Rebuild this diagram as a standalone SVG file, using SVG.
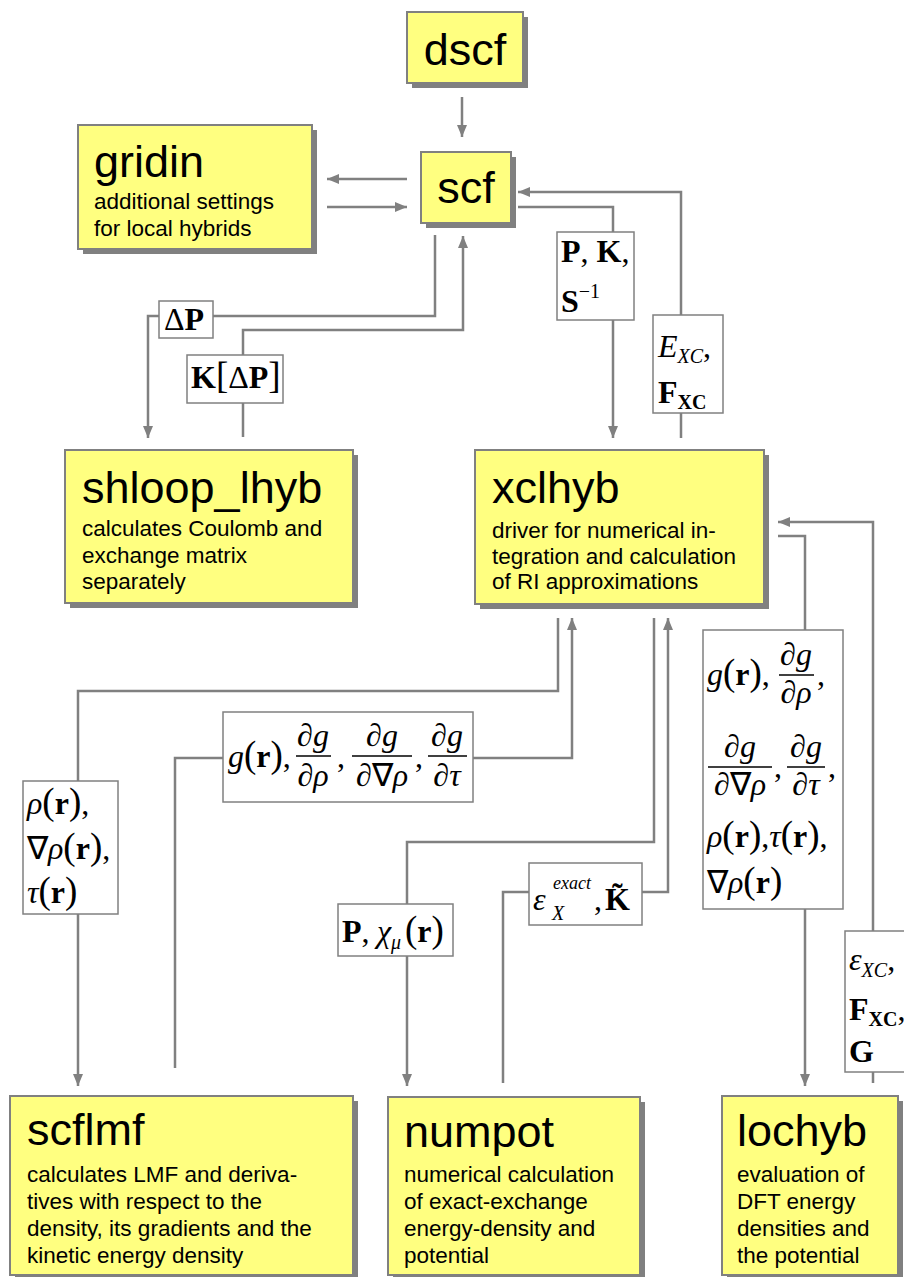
<svg xmlns="http://www.w3.org/2000/svg" width="904" height="1277" viewBox="0 0 904 1277">
<defs>
<marker id="ah" markerWidth="12" markerHeight="10" refX="12" refY="5" orient="auto" markerUnits="userSpaceOnUse"><path d="M0,0 L12,5 L0,10 Z" fill="#808080"/></marker>
<style>
.box{fill:#FFFF80;stroke:#808080;stroke-width:2}
.sh{fill:#808080}
.title{font-family:"Liberation Sans",Arial,sans-serif;font-size:45px;fill:#000}
.sub{font-family:"Liberation Sans",Arial,sans-serif;font-size:22.5px;fill:#000}
.lb{fill:#fff;stroke:#808080;stroke-width:1.5}
.m{font-family:"Liberation Serif","Times New Roman",serif;font-size:32px;fill:#000}
.s{font-size:20px}
.p{font-size:37px}
.i{font-style:italic}
.b{font-weight:bold}
.conn path{fill:none;stroke:#808080;stroke-width:2.5}
.bar{stroke:#000;stroke-width:1.3}
</style>
</defs>
<rect width="904" height="1277" fill="#fff"/>

<g class="conn">
<path d="M462,97 V137" marker-end="url(#ah)"/>
<path d="M407,179 H327" marker-end="url(#ah)"/>
<path d="M327,207 H407" marker-end="url(#ah)"/>
<path d="M435,235 V316 H148 V438" marker-end="url(#ah)"/>
<path d="M243,437 V330 H463 V236" marker-end="url(#ah)"/>
<path d="M518,207 H613 V438" marker-end="url(#ah)"/>
<path d="M681,438 V192 H518" marker-end="url(#ah)"/>
<path d="M558,618 V691 H78 V1086" marker-end="url(#ah)"/>
<path d="M175,1068 V758 H572 V618" marker-end="url(#ah)"/>
<path d="M654,618 V842 H407 V1086" marker-end="url(#ah)"/>
<path d="M503,1083 V892 H668 V618" marker-end="url(#ah)"/>
<path d="M778,536 H805 V1086" marker-end="url(#ah)"/>
<path d="M873,1083 V522 H778" marker-end="url(#ah)"/>
</g>

<g id="dscf">
<rect class="sh" x="412" y="17" width="116" height="71"/>
<rect class="box" x="407" y="12" width="116" height="71"/>
<text class="title" x="465" y="65" text-anchor="middle">dscf</text>
</g>
<g id="scf">
<rect class="sh" x="426" y="157" width="90" height="71"/>
<rect class="box" x="421" y="152" width="90" height="71"/>
<text class="title" x="466" y="203" text-anchor="middle">scf</text>
</g>
<g id="gridin">
<rect class="sh" x="83" y="130" width="234" height="124"/>
<rect class="box" x="78" y="125" width="234" height="124"/>
<text class="title" x="94" y="177">gridin</text>
<text class="sub" x="94" y="209">additional settings</text>
<text class="sub" x="94" y="236">for local hybrids</text>
</g>
<g id="shloop_lhyb">
<rect class="sh" x="70" y="455" width="288" height="153"/>
<rect class="box" x="65" y="450" width="288" height="153"/>
<text class="title" x="82" y="503">shloop_lhyb</text>
<text class="sub" x="82" y="536">calculates Coulomb and</text>
<text class="sub" x="82" y="563">exchange matrix</text>
<text class="sub" x="82" y="589">separately</text>
</g>
<g id="xclhyb">
<rect class="sh" x="480" y="455" width="289" height="154"/>
<rect class="box" x="475" y="450" width="289" height="154"/>
<text class="title" x="492" y="503">xclhyb</text>
<text class="sub" x="492" y="538">driver for numerical in-</text>
<text class="sub" x="492" y="564">tegration and calculation</text>
<text class="sub" x="492" y="589">of RI approximations</text>
</g>
<g id="scflmf">
<rect class="sh" x="15" y="1101" width="343" height="179"/>
<rect class="box" x="10" y="1096" width="343" height="179"/>
<text class="title" x="27" y="1145">scflmf</text>
<text class="sub" x="27" y="1182">calculates LMF and deriva-</text>
<text class="sub" x="27" y="1209">tives with respect to the</text>
<text class="sub" x="27" y="1236">density, its gradients and the</text>
<text class="sub" x="27" y="1263">kinetic energy density</text>
</g>
<g id="numpot">
<rect class="sh" x="393" y="1102" width="252" height="178"/>
<rect class="box" x="388" y="1097" width="252" height="178"/>
<text class="title" x="404" y="1147">numpot</text>
<text class="sub" x="404" y="1182">numerical calculation</text>
<text class="sub" x="404" y="1209">of exact-exchange</text>
<text class="sub" x="404" y="1236">energy-density and</text>
<text class="sub" x="404" y="1263">potential</text>
</g>
<g id="lochyb">
<rect class="sh" x="727" y="1101" width="176" height="179"/>
<rect class="box" x="722" y="1096" width="176" height="179"/>
<text class="title" x="737" y="1146">lochyb</text>
<text class="sub" x="737" y="1182">evaluation of</text>
<text class="sub" x="737" y="1209">DFT energy</text>
<text class="sub" x="737" y="1236">densities and</text>
<text class="sub" x="737" y="1263">the potential</text>
</g>

<g id="lbl_dP">
<rect class="lb" x="159" y="301" width="54" height="37"/>
<text class="m" x="164" y="330">Δ<tspan class="b">P</tspan></text>
</g>
<g id="lbl_KdP">
<rect class="lb" x="187" y="355" width="96" height="48"/>
<text class="m" x="191" y="388"><tspan class="b">K</tspan><tspan class="p">[</tspan>Δ<tspan class="b">P</tspan><tspan class="p">]</tspan></text>
</g>
<g id="lbl_PKS">
<rect class="lb" x="557" y="232" width="77" height="88"/>
<text class="m" x="561" y="262"><tspan class="b">P</tspan>, <tspan class="b">K</tspan>,</text>
<text class="m" x="561" y="312"><tspan class="b">S</tspan><tspan class="s" dy="-14">−1</tspan></text>
</g>
<g id="lbl_Exc">
<rect class="lb" x="653" y="315" width="70" height="98"/>
<text class="m" x="658" y="357"><tspan class="i">E</tspan><tspan class="s i" dy="6">XC</tspan><tspan dy="-6">,</tspan></text>
<text class="m" x="658" y="403"><tspan class="b">F</tspan><tspan class="s b" dy="6">XC</tspan></text>
</g>
<g id="lbl_rho">
<rect class="lb" x="23" y="781" width="95" height="133"/>
<text class="m" x="27" y="814"><tspan class="i">ρ</tspan><tspan class="p">(</tspan><tspan class="b">r</tspan><tspan class="p">)</tspan>,</text>
<text class="m" x="27" y="859">∇<tspan class="i">ρ</tspan><tspan class="p">(</tspan><tspan class="b">r</tspan><tspan class="p">)</tspan>,</text>
<text class="m" x="27" y="903"><tspan class="i">τ</tspan><tspan class="p">(</tspan><tspan class="b">r</tspan><tspan class="p">)</tspan></text>
</g>
<g id="lbl_gmid">
<rect class="lb" x="223" y="712" width="250" height="90"/>
<text class="m" x="228" y="767"><tspan class="i">g</tspan><tspan class="p">(</tspan><tspan class="b">r</tspan><tspan class="p">)</tspan>,</text>
<text class="m" x="313" y="746" text-anchor="middle">∂<tspan class="i">g</tspan></text>
<line class="bar" x1="296" y1="756" x2="331" y2="756"/>
<text class="m" x="313" y="786" text-anchor="middle">∂<tspan class="i">ρ</tspan></text>
<text class="m" x="337" y="767">,</text>
<text class="m" x="382" y="746" text-anchor="middle">∂<tspan class="i">g</tspan></text>
<line class="bar" x1="352" y1="756" x2="412" y2="756"/>
<text class="m" x="382" y="786" text-anchor="middle">∂∇<tspan class="i">ρ</tspan></text>
<text class="m" x="415" y="767">,</text>
<text class="m" x="447" y="746" text-anchor="middle">∂<tspan class="i">g</tspan></text>
<line class="bar" x1="428" y1="756" x2="467" y2="756"/>
<text class="m" x="447" y="786" text-anchor="middle">∂<tspan class="i">τ</tspan></text>
</g>
<g id="lbl_Pchi">
<rect class="lb" x="338" y="904" width="115" height="52"/>
<text class="m" x="342" y="942"><tspan class="b">P</tspan>,<tspan class="i" x="377">χ</tspan><tspan class="s i" dy="7">μ</tspan><tspan class="p" dy="-7" x="405">(</tspan><tspan class="b">r</tspan><tspan class="p">)</tspan></text>
</g>
<g id="lbl_eps">
<rect class="lb" x="529" y="863" width="113" height="62"/>
<text class="m i" x="533" y="910">ε</text>
<text class="m i" x="553" y="889" style="font-size:18px">exact</text>
<text class="m s i" x="552" y="920">X</text>
<text class="m" x="594" y="910">,</text>
<text class="m b" x="605" y="910">K̃</text>
</g>
<g id="lbl_gright">
<rect class="lb" x="703" y="630" width="140" height="279"/>
<text class="m" x="707" y="685"><tspan class="i">g</tspan><tspan class="p">(</tspan><tspan class="b">r</tspan><tspan class="p">)</tspan>,</text>
<text class="m" x="796" y="665" text-anchor="middle">∂<tspan class="i">g</tspan></text>
<line class="bar" x1="779" y1="675" x2="814" y2="675"/>
<text class="m" x="796" y="703" text-anchor="middle">∂<tspan class="i">ρ</tspan></text>
<text class="m" x="817" y="685">,</text>
<text class="m" x="740" y="757" text-anchor="middle">∂<tspan class="i">g</tspan></text>
<line class="bar" x1="708" y1="767" x2="772" y2="767"/>
<text class="m" x="740" y="795" text-anchor="middle">∂∇<tspan class="i">ρ</tspan></text>
<text class="m" x="774" y="777">,</text>
<text class="m" x="806" y="757" text-anchor="middle">∂<tspan class="i">g</tspan></text>
<line class="bar" x1="787" y1="767" x2="825" y2="767"/>
<text class="m" x="806" y="795" text-anchor="middle">∂<tspan class="i">τ</tspan></text>
<text class="m" x="828" y="777">,</text>
<text class="m" x="707" y="847"><tspan class="i">ρ</tspan><tspan class="p">(</tspan><tspan class="b">r</tspan><tspan class="p">)</tspan>,<tspan class="i">τ</tspan><tspan class="p">(</tspan><tspan class="b">r</tspan><tspan class="p">)</tspan>,</text>
<text class="m" x="707" y="893">∇<tspan class="i">ρ</tspan><tspan class="p">(</tspan><tspan class="b">r</tspan><tspan class="p">)</tspan></text>
</g>
<g id="lbl_excr">
<rect class="lb" x="845" y="931" width="70" height="141"/>
<text class="m" x="849" y="970"><tspan class="i">ε</tspan><tspan class="s i" dy="7">XC</tspan><tspan dy="-7">,</tspan></text>
<text class="m" x="849" y="1020"><tspan class="b">F</tspan><tspan class="s b" dy="6">XC</tspan><tspan dy="-6">,</tspan></text>
<text class="m b" x="849" y="1062">G</text>
</g>
</svg>
